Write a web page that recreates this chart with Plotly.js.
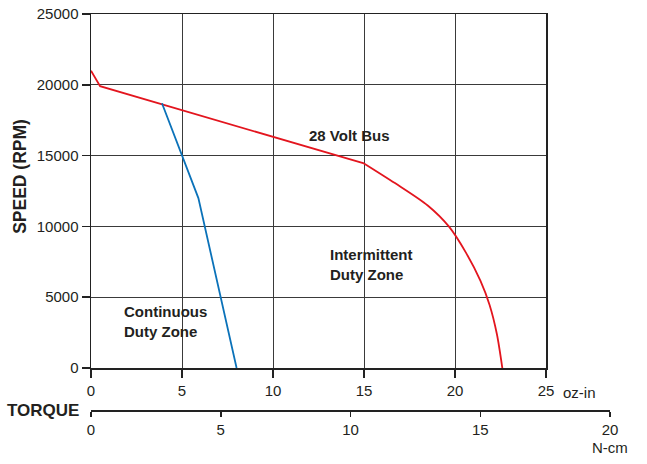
<!DOCTYPE html>
<html>
<head>
<meta charset="utf-8">
<script src="https://cdn.plot.ly/plotly-3.0.1.min.js"></script>
<style>html,body{margin:0;padding:0;background:#fff;}#chart{width:647px;height:464px;}</style>
</head>
<body>
<div id="chart"></div>
<script>
// 28 Volt Bus speed-torque curve (torque in oz-in, speed in RPM)
var busTorque = [0, 0.5, 15, 16.7, 18.5, 19.66, 20.6, 21.4, 21.9, 22.3, 22.6];
var busSpeed  = [21000, 19900, 14450, 13060, 11480, 10000, 8150, 6150, 4450, 2400, 0];
// Continuous duty boundary
var contTorque = [3.9, 5, 5.9, 8];
var contSpeed  = [18700, 15000, 12000, 0];
// Axis ticks
var ozTicks = [0, 5, 10, 15, 20, 25];
var speedTicks = [0, 5000, 10000, 15000, 20000, 25000];
var ncmTicks = [0, 5, 10, 15, 20];

var FONT = 'Liberation Sans, Arial, sans-serif';
var TXT = '#231f20';
var RED = '#e3151e';

var traces = [
  {x: busTorque.slice(0, 3), y: busSpeed.slice(0, 3), type: 'scatter', mode: 'lines',
   line: {color: RED, width: 1.8}, xaxis: 'x', yaxis: 'y', hoverinfo: 'skip'},
  {x: busTorque.slice(2), y: busSpeed.slice(2), type: 'scatter', mode: 'lines',
   line: {color: RED, width: 1.8, shape: 'spline', smoothing: 0.8}, xaxis: 'x', yaxis: 'y', hoverinfo: 'skip'},
  {x: contTorque, y: contSpeed, type: 'scatter', mode: 'lines',
   line: {color: '#0b72b9', width: 1.8}, xaxis: 'x', yaxis: 'y', hoverinfo: 'skip'},
  {x: [0, 20], y: [0, 0], type: 'scatter', mode: 'lines', line: {width: 0},
   xaxis: 'x2', yaxis: 'y3', hoverinfo: 'skip', showlegend: false}
];

var layout = {
  width: 647, height: 464,
  margin: {l: 91, r: 37, t: 14, b: 54},
  paper_bgcolor: '#fff', plot_bgcolor: '#fff',
  showlegend: false,
  font: {family: FONT, color: TXT, size: 15},
  xaxis: {
    domain: [0, 0.8767], range: [0, 25], anchor: 'y',
    tickvals: ozTicks, ticktext: ozTicks.map(String),
    showgrid: true, gridcolor: '#3a3a3a', gridwidth: 1,
    showline: true, linecolor: '#222', linewidth: 1.5, mirror: true,
    ticks: 'outside', ticklen: 8, tickcolor: '#222', tickwidth: 1.5,
    zeroline: false, fixedrange: true,
    tickfont: {family: FONT, size: 15, color: TXT}
  },
  yaxis: {
    domain: [0.106, 1], range: [0, 25000], anchor: 'x',
    tickvals: speedTicks, ticktext: speedTicks.map(String),
    showgrid: true, gridcolor: '#3a3a3a', gridwidth: 1,
    showline: true, linecolor: '#222', linewidth: 1.5, mirror: true,
    ticks: 'outside', ticklen: 8, tickcolor: '#222', tickwidth: 1.5,
    zeroline: false, fixedrange: true,
    tickfont: {family: FONT, size: 15, color: TXT}
  },
  xaxis2: {
    domain: [0, 1], range: [0, 20], anchor: 'y3',
    tickvals: ncmTicks, ticktext: ncmTicks.map(String),
    showgrid: false, zeroline: false,
    showline: true, linecolor: '#222', linewidth: 1.5,
    ticks: 'outside', ticklen: 5, tickcolor: '#222', tickwidth: 1.5,
    fixedrange: true,
    tickfont: {family: FONT, size: 15, color: TXT}
  },
  yaxis3: {domain: [0, 0.01], range: [0, 1], visible: false, fixedrange: true},
  annotations: [
    {text: '<b>SPEED (RPM)</b>', x: 0, y: 13500, xref: 'paper', yref: 'y', xshift: -71, textangle: -90,
     xanchor: 'center', yanchor: 'middle', showarrow: false,
     font: {family: FONT, size: 17.5, color: TXT}},
    {text: '<b>28 Volt Bus</b>', x: 14.2, y: 16400, xref: 'x', yref: 'y', showarrow: false,
     font: {family: FONT, size: 15, color: TXT}},
    {text: '<b>Intermittent<br>Duty Zone</b>', x: 15.4, y: 7300, xref: 'x', yref: 'y', showarrow: false,
     font: {family: FONT, size: 15, color: TXT}, align: 'left'},
    {text: '<b>Continuous<br>Duty Zone</b>', x: 4.1, y: 3300, xref: 'x', yref: 'y', showarrow: false,
     font: {family: FONT, size: 15, color: TXT}, align: 'left'},
    {text: 'oz-in', x: 18.1, y: 0.106, xref: 'x2', yref: 'paper', yshift: -24, xanchor: 'left', yanchor: 'middle', showarrow: false,
     font: {family: FONT, size: 15, color: TXT}},
    {text: 'N-cm', x: 20, y: 0, xref: 'x2', yref: 'paper', yshift: -37, xanchor: 'center', yanchor: 'middle', showarrow: false,
     font: {family: FONT, size: 15, color: TXT}},
    {text: '<b>TORQUE</b>', x: 0, y: 0, xref: 'paper', yref: 'paper', xshift: -10, yshift: 0,
     xanchor: 'right', yanchor: 'middle', showarrow: false,
     font: {family: FONT, size: 17, color: TXT}}
  ]
};

Plotly.newPlot('chart', traces, layout, {displayModeBar: false, staticPlot: true});
</script>
</body>
</html>
